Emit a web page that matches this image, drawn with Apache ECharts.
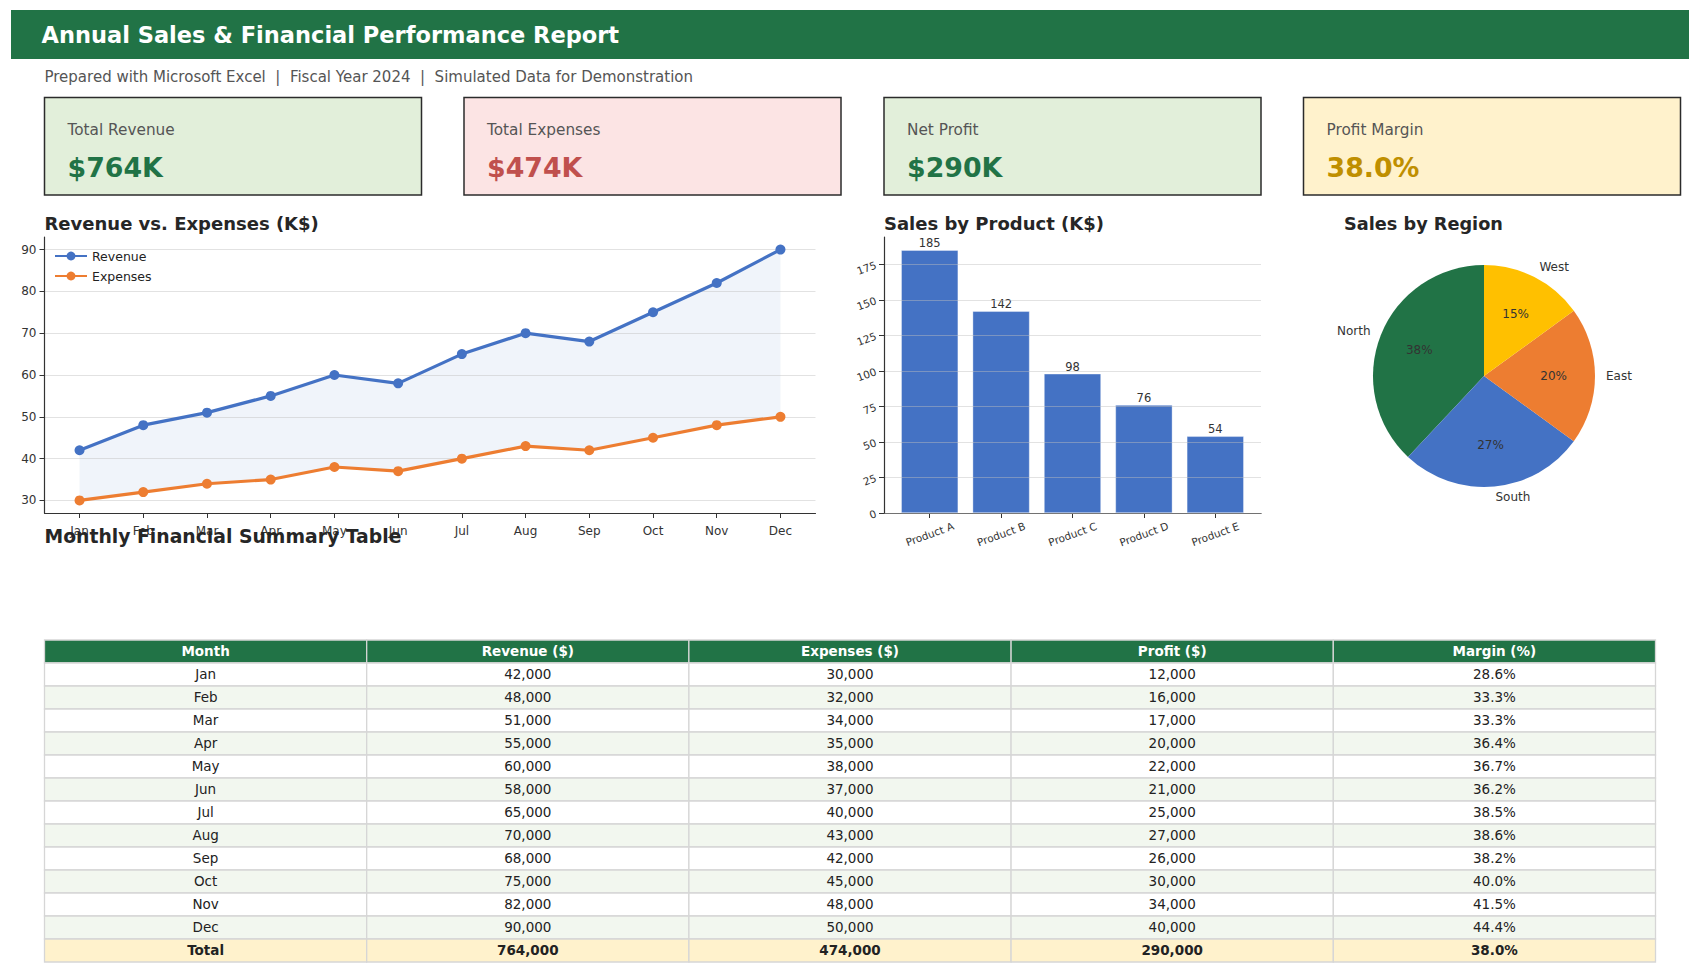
<!DOCTYPE html>
<html>
<head>
<meta charset="utf-8">
<script src="https://cdn.jsdelivr.net/npm/echarts@6.0.0/dist/echarts.min.js"></script>
<style>
html,body{margin:0;padding:0;background:#ffffff;}
#chart{width:1700px;height:970px;}
</style>
</head>
<body>
<div id="chart"></div>
<script>
// ---------------- data ----------------
const months = ['Jan','Feb','Mar','Apr','May','Jun','Jul','Aug','Sep','Oct','Nov','Dec'];
const revenueK = [42,48,51,55,60,58,65,70,68,75,82,90];
const expensesK = [30,32,34,35,38,37,40,43,42,45,48,50];
const products = ['Product A','Product B','Product C','Product D','Product E'];
const productSalesK = [185,142,98,76,54];
const regions = ['North','South','East','West'];
const regionShares = [38,27,20,15];
const lineYTicks = [30,40,50,60,70,80,90];
const barYTicks = [0,25,50,75,100,125,150,175];
const tableHeaders = ['Month','Revenue ($)','Expenses ($)','Profit ($)','Margin (%)'];

// ---------------- derived ----------------
const sum = a => a.reduce((s,v)=>s+v,0);
const totRev = sum(revenueK), totExp = sum(expensesK), totProfit = totRev - totExp;
const fmtK = v => (v*1000).toLocaleString('en-US');
const pct = (p, r) => (p / r * 100).toFixed(1) + '%';

const FONT = 'DejaVu Sans';
const GREEN = '#217346', BLUE = '#4472C4', ORANGE = '#ED7D31', GOLD = '#FFC000';

// table cells
const tableRows = [tableHeaders];
months.forEach((m,i)=>{
  const p = revenueK[i]-expensesK[i];
  tableRows.push([m, fmtK(revenueK[i]), fmtK(expensesK[i]), fmtK(p), pct(p, revenueK[i])]);
});
tableRows.push(['Total', fmtK(totRev), fmtK(totExp), fmtK(totProfit), pct(totProfit, totRev)]);
const cells = [];
tableRows.forEach((row,r)=>row.forEach((txt,c)=>cells.push({value:[c,r], txt})));

const chart = echarts.init(document.getElementById('chart'), null, {renderer:'svg', width:1700, height:970});

// KPI boxes
const kpis = [
  {label:'Total Revenue', value:'$'+totRev+'K', color:GREEN, bg:'#E2EFDA', x:44.5},
  {label:'Total Expenses', value:'$'+totExp+'K', color:'#C0504D', bg:'#FCE4E4', x:464},
  {label:'Net Profit', value:'$'+totProfit+'K', color:GREEN, bg:'#E2EFDA', x:884},
  {label:'Profit Margin', value:(totProfit/totRev*100).toFixed(1)+'%', color:'#BF8F00', bg:'#FFF2CC', x:1303.5}
];
const graphics = [
  {type:'rect', shape:{x:11, y:10, width:1678, height:49}, style:{fill:GREEN}},
  {type:'text', x:41.5, y:35, style:{text:'Annual Sales & Financial Performance Report', fill:'#ffffff', font:'bold 22.5px "DejaVu Sans"', verticalAlign:'middle'}},
  {type:'text', x:44.5, y:76.5, style:{text:'Prepared with Microsoft Excel  |  Fiscal Year 2024  |  Simulated Data for Demonstration', fill:'#555555', font:'15px "DejaVu Sans"', verticalAlign:'middle'}},
  {type:'text', x:44.5, y:223.5, style:{text:'Revenue vs. Expenses (K$)', fill:'#262626', font:'bold 18px "DejaVu Sans"', verticalAlign:'middle'}},
  {type:'text', x:884, y:223.5, style:{text:'Sales by Product (K$)', fill:'#262626', font:'bold 18px "DejaVu Sans"', verticalAlign:'middle'}},
  {type:'text', x:1423.5, y:223.5, style:{text:'Sales by Region', fill:'#262626', font:'bold 17.7px "DejaVu Sans"', verticalAlign:'middle', align:'center'}},
  {type:'text', x:44.5, y:536, z:10, style:{text:'Monthly Financial Summary Table', fill:'#262626', font:'bold 18.8px "DejaVu Sans"', verticalAlign:'middle'}}
];
kpis.forEach(k=>{
  graphics.push({type:'rect', shape:{x:k.x, y:97.5, width:377, height:97.5}, style:{fill:k.bg, stroke:'#2b2b2b', lineWidth:1.5}});
  graphics.push({type:'text', x:k.x+23, y:129.5, style:{text:k.label, fill:'#555555', font:'15.3px "DejaVu Sans"', verticalAlign:'middle'}});
  graphics.push({type:'text', x:k.x+23, y:167, style:{text:k.value, fill:k.color, font:'bold 26.8px "DejaVu Sans"', verticalAlign:'middle'}});
});

const axisLineStyle = {color:'#333333', width:1.2};
const gridLine = {show:true, lineStyle:{color:'rgba(190,190,190,0.45)', width:1}};

const option = {
  animation:false,
  backgroundColor:'#ffffff',
  textStyle:{fontFamily:FONT},
  graphic:graphics,
  legend:{
    data:['Revenue','Expenses'], orient:'vertical', left:54, top:249.5, padding:0,
    itemWidth:32, itemHeight:11, itemGap:7,
    textStyle:{fontSize:12.5, color:'#222222', fontFamily:FONT}
  },
  grid:[
    {left:44.5, top:237, width:771, height:276},
    {left:884, top:237, width:377, height:276},
    {left:44.5, top:640, width:1611, height:322}
  ],
  xAxis:[
    {gridIndex:0, type:'value', min:-0.55, max:11.55,
     axisLine:{show:true, onZero:false, lineStyle:axisLineStyle},
     axisTick:{show:true, length:5, lineStyle:{color:'#333'}, customValues:months.map((m,i)=>i)},
     axisLabel:{customValues:months.map((m,i)=>i), formatter:v=>months[Math.round(v)], fontSize:12, color:'#333', margin:12, fontFamily:FONT},
     splitLine:{show:false}},
    {gridIndex:1, type:'value', min:-0.64, max:4.64,
     axisLine:{show:true, onZero:false, lineStyle:axisLineStyle},
     axisTick:{show:true, length:5, lineStyle:{color:'#333'}, customValues:products.map((p,i)=>i)},
     axisLabel:{customValues:products.map((p,i)=>i), formatter:v=>products[Math.round(v)], fontSize:10.5, color:'#333', rotate:20, align:'center', verticalAlign:'middle', margin:21, fontFamily:FONT},
     splitLine:{show:false}},
    {gridIndex:2, type:'value', min:0, max:5, show:false}
  ],
  yAxis:[
    {gridIndex:0, type:'value', min:27, max:93, z:2,
     axisLine:{show:true, onZero:false, lineStyle:axisLineStyle},
     axisTick:{show:true, length:5, lineStyle:{color:'#333'}, customValues:lineYTicks},
     axisLabel:{customValues:lineYTicks, fontSize:12, color:'#333', margin:8, fontFamily:FONT},
     splitLine:gridLine},
    {gridIndex:1, type:'value', min:0, max:194.25, z:2,
     axisLine:{show:true, onZero:false, lineStyle:axisLineStyle},
     axisTick:{show:true, length:5, lineStyle:{color:'#333'}, customValues:barYTicks},
     axisLabel:{customValues:barYTicks, fontSize:10.5, color:'#333', margin:8, rotate:20, fontFamily:FONT},
     splitLine:gridLine},
    {gridIndex:2, type:'value', min:0, max:14, inverse:true, show:false}
  ],
  series:[
    {type:'custom', name:'band', xAxisIndex:0, yAxisIndex:0, z:1, silent:true,
     data:months.map((m,i)=>[i, revenueK[i]]),
     renderItem:(params, api)=>{
       if (params.dataIndex !== 0) return null;
       const pts = revenueK.map((v,i)=>api.coord([i,v]));
       for (let i = expensesK.length-1; i>=0; i--) pts.push(api.coord([i, expensesK[i]]));
       return {type:'polygon', shape:{points:pts}, style:{fill:'rgba(68,114,196,0.08)'}};
     }},
    {type:'line', name:'Revenue', xAxisIndex:0, yAxisIndex:0, z:3,
     data:months.map((m,i)=>[i, revenueK[i]]),
     symbol:'circle', symbolSize:10, lineStyle:{color:BLUE, width:3.2}, itemStyle:{color:BLUE}},
    {type:'line', name:'Expenses', xAxisIndex:0, yAxisIndex:0, z:3,
     data:months.map((m,i)=>[i, expensesK[i]]),
     symbol:'circle', symbolSize:10, lineStyle:{color:ORANGE, width:3.2}, itemStyle:{color:ORANGE}},
    {type:'bar', name:'Sales', xAxisIndex:1, yAxisIndex:1, z:1, barWidth:57,
     data:products.map((p,i)=>[i, productSalesK[i]]),
     itemStyle:{color:BLUE, borderColor:'rgba(255,255,255,0.6)', borderWidth:0.6},
     label:{show:true, position:'top', distance:1, fontSize:11.5, color:'#333', fontFamily:FONT, formatter:p=>p.value[1]}},
    {type:'pie', name:'Region', center:[1484,376], radius:[0,111], startAngle:90, clockwise:false,
     avoidLabelOverlap:false, silent:true,
     data:regions.map((r,i)=>({name:r, value:regionShares[i], itemStyle:{color:[GREEN,BLUE,ORANGE,GOLD][i]}})),
     label:{show:true, position:'outside', fontSize:12, color:'#333', fontFamily:FONT, distanceToLabelLine:0, formatter:'{b}'},
     labelLine:{show:false, length:11, length2:0}},
    {type:'pie', name:'RegionPct', center:[1484,376], radius:[22.2,111], startAngle:90, clockwise:false,
     avoidLabelOverlap:false, silent:true, percentPrecision:0, z:3,
     data:regions.map((r,i)=>({name:r, value:regionShares[i]})),
     itemStyle:{color:'rgba(0,0,0,0)'},
     label:{show:true, position:'inside', fontSize:12, color:'#333', fontFamily:FONT, formatter:'{d}%'},
     labelLine:{show:false}},
    {type:'custom', name:'table', xAxisIndex:2, yAxisIndex:2, silent:true,
     data:cells.map(c=>c.value),
     renderItem:(params, api)=>{
       const c = api.value(0), r = api.value(1);
       const p0 = api.coord([c, r]), p1 = api.coord([c+1, r+1]);
       const last = tableRows.length-1;
       let fill = (r % 2 === 1) ? '#ffffff' : '#F2F7EF';
       let tcol = '#222222', weight = 'normal';
       if (r === 0) { fill = GREEN; tcol = '#ffffff'; weight = 'bold'; }
       if (r === last) { fill = '#FFF2CC'; weight = 'bold'; }
       return {type:'group', children:[
         {type:'rect', shape:{x:p0[0], y:p0[1], width:p1[0]-p0[0], height:p1[1]-p0[1]},
          style:{fill, stroke:'#D6D6D6', lineWidth:1.3}},
         {type:'text', style:{text:cells[params.dataIndex].txt, x:(p0[0]+p1[0])/2, y:(p0[1]+p1[1])/2-1,
          align:'center', verticalAlign:'middle', fill:tcol, fontSize:13.5, fontWeight:weight, fontFamily:FONT}}
       ]};
     }}
  ]
};
chart.setOption(option);
</script>
</body>
</html>
